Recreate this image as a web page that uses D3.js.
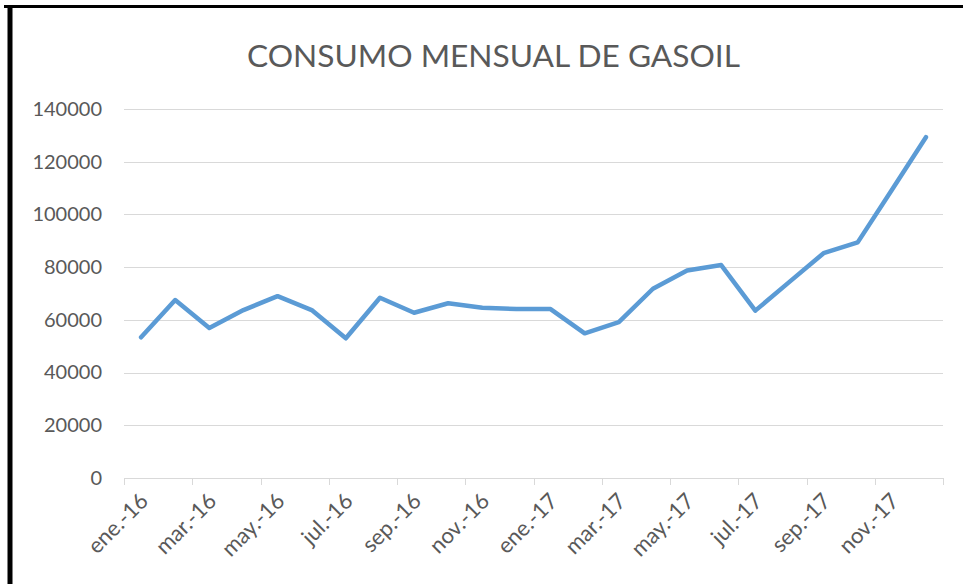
<html>
  <head>
    <title>Consumo mensual de gasoil</title>
    <script src="https://d3js.org/d3.v7.min.js"></script>
    <style>
      body { margin: 0; background: #fff; }
    </style>
  </head>
  <body>
    <svg id="chart" width="963" height="584"></svg>
    <script>
      // month labels (every month)
      var months = ["ene.-16", "feb.-16", "mar.-16", "abr.-16", "may.-16", "jun.-16",
                    "jul.-16", "ago.-16", "sep.-16", "oct.-16", "nov.-16", "dic.-16",
                    "ene.-17", "feb.-17", "mar.-17", "abr.-17", "may.-17", "jun.-17",
                    "jul.-17", "ago.-17", "sep.-17", "oct.-17", "nov.-17", "dic.-17"];
      var consumo = [53400, 67500, 56900, 63700, 69000, 63700,
                     53000, 68400, 62700, 66300, 64600, 64100,
                     64100, 54900, 59100, 71800, 78700, 80800,
                     63500, 74400, 85300, 89400, 109300, 129300];
      var yTicks = [0, 20000, 40000, 60000, 80000, 100000, 120000, 140000];

      var svg = d3.select("#chart");
      var grey = "#595959";
      var font = "Lato, 'Open Sans', sans-serif";

      // screenshot frame (black edges top and left)
      svg.append("rect").attr("x", 0).attr("y", 0).attr("width", 963).attr("height", 584).attr("fill", "#fff");
      svg.append("line").attr("x1", 4).attr("x2", 963).attr("y1", 6.5).attr("y2", 6.5)
          .attr("stroke", "#000").attr("stroke-width", 3);
      svg.append("line").attr("x1", 10).attr("x2", 10).attr("y1", 5).attr("y2", 584)
          .attr("stroke", "#000").attr("stroke-width", 5);

      var pLeft = 124, pRight = 943, pTop = 109, pBottom = 478;

      var x = d3.scaleBand().domain(months).range([pLeft, pRight]);
      var y = d3.scaleLinear().domain([0, 140000]).range([pBottom, pTop]);

      // title
      svg.append("text")
          .attr("x", 493.5).attr("y", 67)
          .attr("text-anchor", "middle")
          .attr("font-family", font)
          .attr("font-size", 30)
          .attr("fill", grey)
          .attr("textLength", 493)
          .attr("lengthAdjust", "spacingAndGlyphs")
          .text("CONSUMO MENSUAL DE GASOIL");

      // gridlines
      svg.append("g").selectAll("line")
          .data(yTicks.slice(1))
          .enter().append("line")
          .attr("x1", pLeft).attr("x2", pRight)
          .attr("y1", function(d) { return Math.round(y(d)) + 0.5; })
          .attr("y2", function(d) { return Math.round(y(d)) + 0.5; })
          .attr("stroke", "#d9d9d9").attr("stroke-width", 1);

      // y axis labels
      var yAxis = svg.append("g")
          .attr("transform", "translate(" + pLeft + ",0)")
          .call(d3.axisLeft(y).tickValues(yTicks).tickSize(0).tickPadding(22).tickFormat(d3.format("d")));
      yAxis.select(".domain").remove();
      yAxis.selectAll("text")
          .attr("font-family", font).attr("font-size", 20).attr("fill", grey);

      // x axis: ticks at month boundaries every 2 months, labels at month centres
      var tickMonths = months.filter(function(d, i) { return i % 2 == 0; });
      var xg = svg.append("g");
      xg.append("line")
          .attr("x1", pLeft).attr("x2", pRight)
          .attr("y1", pBottom + 0.5).attr("y2", pBottom + 0.5)
          .attr("stroke", "#d9d9d9").attr("stroke-width", 1);
      xg.selectAll(".tk")
          .data(tickMonths.concat(["end"]))
          .enter().append("line")
          .attr("class", "tk")
          .attr("x1", function(d) { return Math.round(d == "end" ? pRight : x(d)) + 0.5; })
          .attr("x2", function(d) { return Math.round(d == "end" ? pRight : x(d)) + 0.5; })
          .attr("y1", pBottom).attr("y2", pBottom + 7)
          .attr("stroke", "#d9d9d9").attr("stroke-width", 1);
      xg.selectAll("text")
          .data(tickMonths)
          .enter().append("text")
          .attr("transform", function(d) {
              return "translate(" + (x(d) + x.bandwidth() / 2 + 3) + "," + (pBottom + 19) + ") rotate(-45)";
          })
          .attr("text-anchor", "end")
          .attr("dy", "0.35em")
          .attr("font-family", font).attr("font-size", 22).attr("fill", grey)
          .text(function(d) { return d; });

      // line
      var line = d3.line()
          .x(function(d, i) { return x(months[i]) + x.bandwidth() / 2; })
          .y(function(d) { return y(d); });

      svg.append("path")
          .datum(consumo)
          .attr("d", line)
          .attr("fill", "none")
          .attr("stroke", "#5B9BD5")
          .attr("stroke-width", 4.5)
          .attr("stroke-linejoin", "round")
          .attr("stroke-linecap", "round");
    </script>
  </body>
</html>
